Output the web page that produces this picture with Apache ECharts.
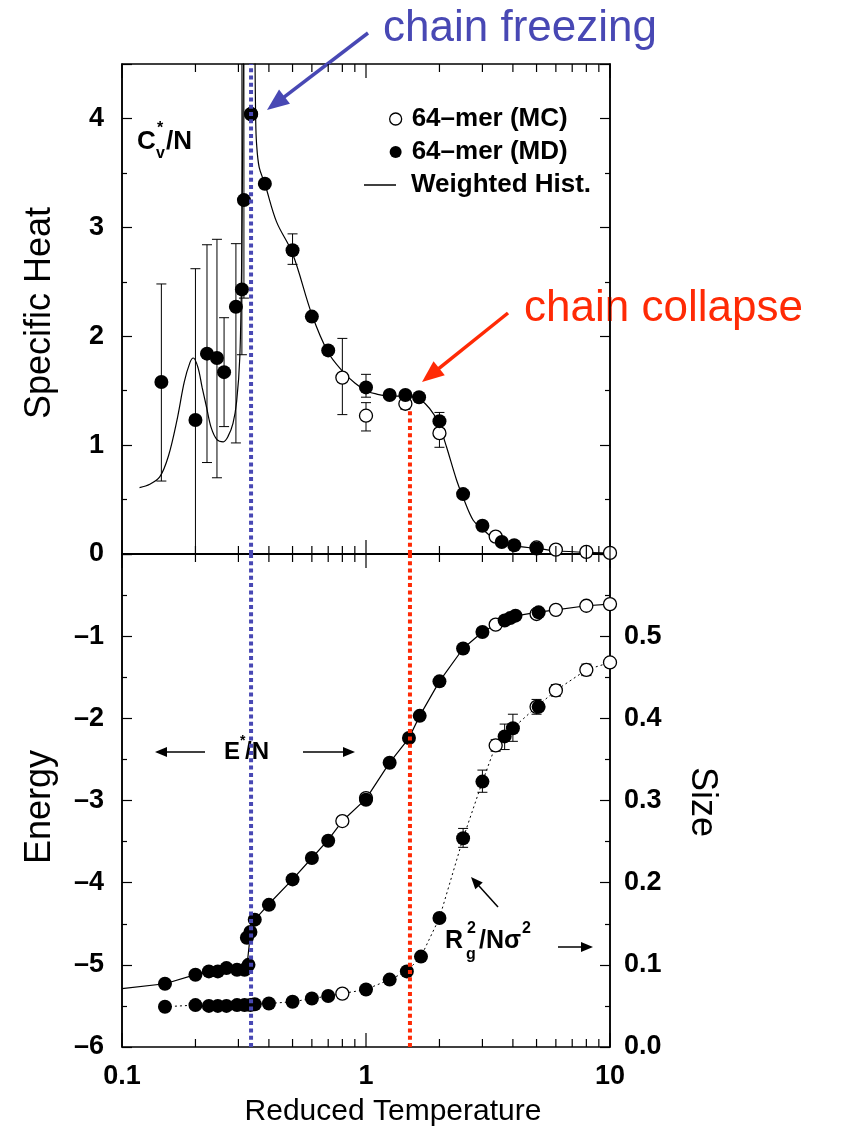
<!DOCTYPE html>
<html><head><meta charset="utf-8">
<script src="https://cdn.jsdelivr.net/npm/echarts/dist/echarts.min.js"></script>
<style>html,body{margin:0;padding:0;background:#fff}#c{width:846px;height:1138px}</style>
</head><body><div id="c"></div>
<script>
// ---------- DATA ----------
// Top panel: specific heat C_v*/N
const cvMD_T = [0.145,0.2,0.223,0.245,0.262,0.293,0.31,0.316,0.338,0.385,0.5,0.6,0.7,1.0,1.25,1.45,1.65,2.0,2.5,3.0,3.6,4.05,5.0];
const cvMD   = [1.58,1.23,1.84,1.80,1.67,2.27,2.43,3.25,4.04,3.40,2.79,2.18,1.87,1.53,1.46,1.46,1.44,1.22,0.55,0.26,0.11,0.08,0.05];
const cvMC_T = [0.338,0.8,1.0,1.45,2.0,3.4,5.0,6.0,8.0,10.0];
const cvMC   = [4.04,1.62,1.27,1.38,1.11,0.16,0.06,0.04,0.02,0.01];
// error bars: [T, low, high]
const cvErrMD = [[0.145,0.67,2.48],[0.2,0,2.62],[0.223,0.84,2.84],[0.245,0.70,2.89],[0.262,1.17,2.17],[0.293,1.02,2.85],[0.31,1.83,5],[0.316,2.35,5],[0.5,2.66,2.94],[1.0,1.44,1.65],[2.0,1.15,1.30]];
const cvErrMC = [[0.8,1.28,1.98],[1.0,1.13,1.39],[1.45,1.33,1.43],[2.0,0.98,1.25]];
// weighted histogram curve
const histT  = [0.118,0.13,0.143,0.155,0.168,0.18,0.19,0.196,0.205,0.213,0.222,0.232,0.245,0.26,0.272,0.285,0.295,0.304,0.309,0.313,0.318,0.33,0.345,0.351,0.353,0.356,0.365,0.385,0.43,0.5,0.6,0.7,0.8,0.9,1.0,1.1,1.25,1.45,1.6,1.75,1.9,2.0,2.14,2.35,2.5,2.75,3.0,3.4,4.0,5.0,6.0,8.0,10.0];
const histCv = [0.61,0.64,0.71,0.90,1.23,1.58,1.76,1.80,1.71,1.53,1.35,1.16,1.05,1.03,1.08,1.20,1.40,1.81,2.60,4.00,5.50,7.00,6.00,4.50,4.00,3.77,3.55,3.40,3.05,2.76,2.20,1.85,1.68,1.57,1.50,1.47,1.45,1.45,1.44,1.38,1.28,1.18,0.98,0.68,0.52,0.31,0.23,0.13,0.08,0.05,0.03,0.015,0.01];

// Bottom panel: energy E*/N (left axis)
const eMD_T = [0.15,0.2,0.227,0.247,0.268,0.296,0.318,0.33,0.325,0.336,0.35,0.4,0.5,0.6,0.7,1.0,1.25,1.5,1.66,2.0,2.5,3.0,3.7,3.9,4.1,5.1];
const eMD   = [-5.23,-5.12,-5.08,-5.08,-5.04,-5.06,-5.06,-5.0,-4.67,-4.60,-4.45,-4.27,-3.96,-3.70,-3.49,-2.99,-2.54,-2.24,-1.97,-1.55,-1.15,-0.95,-0.81,-0.78,-0.75,-0.71];
const eMC_T = [0.8,1.0,3.4,5.0,6.0,8.0,10.0];
const eMC   = [-3.25,-2.97,-0.86,-0.73,-0.68,-0.63,-0.61];
const eLineT = [0.1,0.15,0.2,0.25,0.3,0.325,0.328,0.336,0.35,0.4,0.5,0.6,0.7,0.8,1.0,1.25,1.5,1.66,2.0,2.5,3.0,3.5,4.0,5.0,6.0,8.0,10.0];
const eLine  = [-5.29,-5.23,-5.12,-5.07,-5.05,-5.02,-5.0,-4.62,-4.45,-4.26,-3.96,-3.70,-3.48,-3.25,-2.98,-2.54,-2.24,-1.97,-1.55,-1.15,-0.95,-0.84,-0.76,-0.71,-0.68,-0.63,-0.61];

// Bottom panel: size Rg^2/N sigma^2 (right axis)
const sMD_T = [0.15,0.2,0.227,0.247,0.268,0.296,0.318,0.336,0.35,0.4,0.5,0.6,0.7,1.0,1.25,1.47,1.68,2.0,2.5,3.0,3.7,4.0,5.1];
const sMD   = [0.049,0.051,0.050,0.050,0.050,0.051,0.051,0.051,0.052,0.053,0.055,0.059,0.062,0.070,0.082,0.092,0.110,0.157,0.254,0.323,0.378,0.388,0.414];
const sMC_T = [0.8,3.4,5.0,6.0,8.0,10.0];
const sMC   = [0.065,0.367,0.414,0.434,0.459,0.468];
const sErr  = [[2.5,0.243,0.266],[3.0,0.310,0.337],[3.7,0.362,0.393],[4.0,0.372,0.405],[5.0,0.405,0.423],[3.4,0.360,0.374],[6.0,0.427,0.441],[8.0,0.452,0.466],[10.0,0.462,0.474],[0.8,0.060,0.070]];
const sLineT = [0.15,0.2,0.25,0.3,0.35,0.4,0.5,0.6,0.7,0.8,1.0,1.25,1.47,1.68,2.0,2.5,3.0,3.4,3.7,4.0,5.0,6.0,8.0,10.0];
const sLine  = [0.049,0.051,0.050,0.051,0.052,0.053,0.055,0.059,0.062,0.065,0.070,0.082,0.092,0.110,0.157,0.254,0.323,0.367,0.378,0.388,0.414,0.434,0.459,0.468];

// transitions
const freezeT = 0.338;
const collapseT = 1.514;
const collapseCvTop = 1.34;

// x tick values
const xTicks = [0.1,0.2,0.3,0.4,0.5,0.6,0.7,0.8,0.9,1,2,3,4,5,6,7,8,9,10];
const xMajor = [0.1,1,10];

// ---------- CHART ----------
const FONT = "'Liberation Sans', Arial, Helvetica, sans-serif";
const zip = (a,b) => a.map((v,i)=>[v,b[i]]);
const chart = echarts.init(document.getElementById('c'), null, {renderer:'canvas'});

const CV_MAX = 4.5, E_MIN = -6, E_MAX = 0;

function errRender(params, api){
  const x = api.value(0), lo = api.value(1), hi = api.value(2);
  const a = api.coord([x, lo]), b = api.coord([x, hi]);
  const w = 5;
  const st = {stroke:'#000', lineWidth:1};
  return {type:'group', children:[
    {type:'line', shape:{x1:a[0],y1:a[1],x2:b[0],y2:b[1]}, style:st},
    {type:'line', shape:{x1:a[0]-w,y1:a[1],x2:a[0]+w,y2:a[1]}, style:st},
    {type:'line', shape:{x1:b[0]-w,y1:b[1],x2:b[0]+w,y2:b[1]}, style:st}
  ]};
}
function tickRender(ymin, ymax){
  return function(params, api){
    const x = api.value(0);
    const major = xMajor.some(m => Math.abs(m - x) < 1e-9);
    const len = major ? 14 : 8;
    const a = api.coord([x, ymin]), b = api.coord([x, ymax]);
    const st = {stroke:'#000', lineWidth:1.2};
    return {type:'group', children:[
      {type:'line', shape:{x1:a[0],y1:a[1],x2:a[0],y2:a[1]-len}, style:st},
      {type:'line', shape:{x1:b[0],y1:b[1],x2:b[0],y2:b[1]+len}, style:st}
    ]};
  };
}
function vlineRender(color){
  return function(params, api){
    const x = api.value(0);
    const a = api.coord([x, api.value(1)]), b = api.coord([x, api.value(2)]);
    return {type:'line', shape:{x1:a[0],y1:a[1],x2:b[0],y2:b[1]},
      style:{stroke:color, lineWidth:4, lineDash:[4,3.3]}};
  };
}
function arrow(x1,y1,x2,y2,color,w,hl,hw){
  const dx=x2-x1, dy=y2-y1, L=Math.hypot(dx,dy), ux=dx/L, uy=dy/L;
  const bx=x2-ux*hl, by=y2-uy*hl, px=-uy, py=ux;
  return [
    {type:'line', silent:true, shape:{x1:x1,y1:y1,x2:bx+ux*1,y2:by+uy*1}, style:{stroke:color,lineWidth:w}},
    {type:'polygon', silent:true, shape:{points:[[x2,y2],[bx+px*hw,by+py*hw],[bx-px*hw,by-py*hw]]}, style:{fill:color}}
  ];
}
function txt(x,y,text,size,opts){
  opts = opts || {};
  return {type:'text', silent:true, x:x, y:y, rotation:opts.rot||0,
    style:{text:text, font:(opts.weight||'normal')+' '+size+'px '+FONT, fill:opts.color||'#000',
      textAlign:opts.align||'left', textVerticalAlign:'middle'}};
}

const BLUE = '#4848b4', RED = '#ff2a05';
const axisLbl = {color:'#000', fontFamily:FONT, fontWeight:'bold', fontSize:27};
const yTick = {show:true, inside:true, length:10, lineStyle:{color:'#000', width:1.2}};
const yMinor = {show:true, splitNumber:2, length:5, lineStyle:{color:'#000', width:1.2}};
const axLine = {show:true, lineStyle:{color:'#000', width:1.5}};
const mdStyle = {color:'#000', opacity:1};
const mcStyle = {color:'#fff', borderColor:'#000', borderWidth:1.3, opacity:1};

const option = {
  backgroundColor:'#fff',
  animation:false,
  grid:[
    {left:122, top:64, width:488, height:490, show:true, borderColor:'#000', borderWidth:1.5, outerBoundsMode:'none', containLabel:false},
    {left:122, top:554, width:488, height:493, show:true, borderColor:'#000', borderWidth:1.5, outerBoundsMode:'none', containLabel:false}
  ],
  xAxis:[
    {gridIndex:0, type:'log', logBase:10, min:0.1, max:10, axisLine:axLine, axisTick:{show:false}, axisLabel:{show:false}, splitLine:{show:false}, minorTick:{show:false}},
    {gridIndex:1, type:'log', logBase:10, min:0.1, max:10, axisLine:axLine, axisTick:{show:false},
      axisLabel:Object.assign({margin:16, formatter:v => (Math.abs(v-0.1)<1e-9?'0.1':String(Math.round(v)))}, axisLbl),
      splitLine:{show:false}, minorTick:{show:false}}
  ],
  yAxis:[
    {gridIndex:0, type:'value', position:'left', min:0, max:CV_MAX, interval:1, axisLine:axLine, axisTick:yTick, minorTick:yMinor,
      axisLabel:Object.assign({margin:18, showMaxLabel:false, formatter:v=>String(v)}, axisLbl), splitLine:{show:false}},
    {gridIndex:0, type:'value', position:'right', min:0, max:CV_MAX, interval:1, axisLine:axLine, axisTick:yTick, minorTick:yMinor,
      axisLabel:{show:false}, splitLine:{show:false}},
    {gridIndex:1, type:'value', position:'left', min:E_MIN, max:E_MAX, interval:1, axisLine:axLine, axisTick:yTick, minorTick:yMinor,
      axisLabel:Object.assign({margin:18, showMaxLabel:false, formatter:v=> v===0?'':String(v).replace('-','\u2013')}, axisLbl), splitLine:{show:false}},
    {gridIndex:1, type:'value', position:'right', min:0, max:0.6, interval:0.1, axisLine:axLine, axisTick:yTick, minorTick:yMinor,
      axisLabel:Object.assign({margin:14, showMaxLabel:false, formatter:v=>v.toFixed(1)}, axisLbl), splitLine:{show:false}}
  ],
  legend:[
    {data:[{name:'64\u2013mer (MC)', icon:'circle', itemStyle:{color:'#fff', borderColor:'#000', borderWidth:1.3}},
           {name:'64\u2013mer (MD)', icon:'circle', itemStyle:{color:'#000'}}],
     orient:'vertical', left:389, top:106, itemWidth:12, itemHeight:12, itemGap:7, selectedMode:false, padding:0,
     textStyle:{fontFamily:FONT, fontWeight:'bold', fontSize:26, color:'#000', lineHeight:26, padding:[0,0,0,5]}},
    {data:[{name:'Weighted Hist.', icon:'rect', itemStyle:{color:'#000'}}], orient:'vertical', left:364, top:172, itemWidth:32, itemHeight:1.5, selectedMode:false, padding:0,
     textStyle:{fontFamily:FONT, fontWeight:'bold', fontSize:26, color:'#000', lineHeight:26, padding:[0,0,0,10]}}
  ],
  series:[
    // tick marks on x axes (through axis scale)
    {type:'custom', xAxisIndex:0, yAxisIndex:0, clip:false, silent:true, z:6, renderItem:tickRender(0, CV_MAX), data:xTicks.map(v=>[v,0]), encode:{x:0,y:1}},
    {type:'custom', xAxisIndex:1, yAxisIndex:2, clip:false, silent:true, z:6, renderItem:tickRender(E_MIN, E_MAX), data:xTicks.map(v=>[v,-3]), encode:{x:0,y:1}},
    // top panel
    {name:'Weighted Hist.', type:'line', xAxisIndex:0, yAxisIndex:0, data:zip(histT, histCv), symbol:'none', smooth:0.35, clip:true,
      lineStyle:{color:'#000', width:1.2}, itemStyle:{color:'#000'}, z:2},
    {type:'custom', xAxisIndex:0, yAxisIndex:0, clip:true, silent:true, z:2, renderItem:errRender, data:cvErrMD.concat(cvErrMC), encode:{x:0,y:[1,2]}},
    {name:'64\u2013mer (MC)', type:'scatter', xAxisIndex:0, yAxisIndex:0, data:zip(cvMC_T, cvMC), symbol:'circle', symbolSize:13, itemStyle:mcStyle, z:3},
    {name:'64\u2013mer (MD)', type:'scatter', xAxisIndex:0, yAxisIndex:0, data:zip(cvMD_T, cvMD), symbol:'circle', symbolSize:14, itemStyle:mdStyle, z:4},
    // bottom panel: energy
    {name:'E line', type:'line', xAxisIndex:1, yAxisIndex:2, data:zip(eLineT, eLine), symbol:'none', smooth:false,
      lineStyle:{color:'#000', width:1.2}, z:2},
    {name:'64\u2013mer (MC)', type:'scatter', xAxisIndex:1, yAxisIndex:2, data:zip(eMC_T, eMC), symbol:'circle', symbolSize:13, itemStyle:mcStyle, z:3},
    {name:'64\u2013mer (MD)', type:'scatter', xAxisIndex:1, yAxisIndex:2, data:zip(eMD_T, eMD), symbol:'circle', symbolSize:14, itemStyle:mdStyle, z:4},
    // bottom panel: size
    {name:'Size line', type:'line', xAxisIndex:1, yAxisIndex:3, data:zip(sLineT, sLine), symbol:'none', smooth:false,
      lineStyle:{color:'#000', width:1, type:[2,3]}, z:2},
    {type:'custom', xAxisIndex:1, yAxisIndex:3, clip:true, silent:true, z:2, renderItem:errRender, data:sErr, encode:{x:0,y:[1,2]}},
    {name:'64\u2013mer (MC)', type:'scatter', xAxisIndex:1, yAxisIndex:3, data:zip(sMC_T, sMC), symbol:'circle', symbolSize:13, itemStyle:mcStyle, z:3},
    {name:'64\u2013mer (MD)', type:'scatter', xAxisIndex:1, yAxisIndex:3, data:zip(sMD_T, sMD), symbol:'circle', symbolSize:14, itemStyle:mdStyle, z:4},
    // transition lines
    {type:'custom', xAxisIndex:0, yAxisIndex:0, clip:false, silent:true, z:8, renderItem:vlineRender(BLUE), data:[[freezeT,0,CV_MAX]], encode:{x:0,y:[1,2]}},
    {type:'custom', xAxisIndex:1, yAxisIndex:2, clip:false, silent:true, z:8, renderItem:vlineRender(BLUE), data:[[freezeT,E_MIN,E_MAX]], encode:{x:0,y:[1,2]}},
    {type:'custom', xAxisIndex:0, yAxisIndex:0, clip:false, silent:true, z:8, renderItem:vlineRender(RED), data:[[collapseT,0,collapseCvTop]], encode:{x:0,y:[1,2]}},
    {type:'custom', xAxisIndex:1, yAxisIndex:2, clip:false, silent:true, z:8, renderItem:vlineRender(RED), data:[[collapseT,E_MIN,E_MAX]], encode:{x:0,y:[1,2]}}
  ],
  graphic:[].concat(
    [
      txt(383, 29, 'chain freezing', 44, {color:BLUE}),
      txt(524, 309, 'chain collapse', 44, {color:RED}),
      txt(40, 313, 'Specific Heat', 36, {rot:Math.PI/2, align:'center'}),
      txt(40, 807, 'Energy', 36, {rot:Math.PI/2, align:'center'}),
      txt(702, 802, 'Size', 36, {rot:-Math.PI/2, align:'center'}),
      txt(393, 1112, 'Reduced Temperature', 30, {align:'center'}),
      // Cv*/N
      txt(137, 142, 'C', 26, {weight:'bold'}),
      txt(156, 154, 'v', 16, {weight:'bold'}),
      txt(157, 129, '*', 16, {weight:'bold'}),
      txt(166, 142, '/N', 26, {weight:'bold'}),
      // E*/N
      txt(224, 752, 'E', 24, {weight:'bold'}),
      txt(240, 741, '*', 14, {weight:'bold'}),
      txt(245, 752, '/N', 24, {weight:'bold'}),
      // Rg^2/N sigma^2
      txt(445, 941, 'R', 25, {weight:'bold'}),
      txt(466, 955, 'g', 16, {weight:'bold'}),
      txt(467, 929, '2', 16, {weight:'bold'}),
      txt(479, 941, '/N\u03c3', 25, {weight:'bold'}),
      txt(522, 929, '2', 16, {weight:'bold'})
    ],
    arrow(368, 33, 267, 110, BLUE, 3.5, 22, 9),
    arrow(508, 313, 422, 382, RED, 3.5, 22, 9),
    arrow(205, 752, 155, 752, '#000', 1.5, 12, 5),
    arrow(303, 752, 355, 752, '#000', 1.5, 12, 5),
    arrow(558, 947, 593, 947, '#000', 1.5, 12, 5),
    arrow(498, 907, 471, 877, '#000', 1.5, 12, 5)
  )
};
chart.setOption(option);
</script></body></html>
